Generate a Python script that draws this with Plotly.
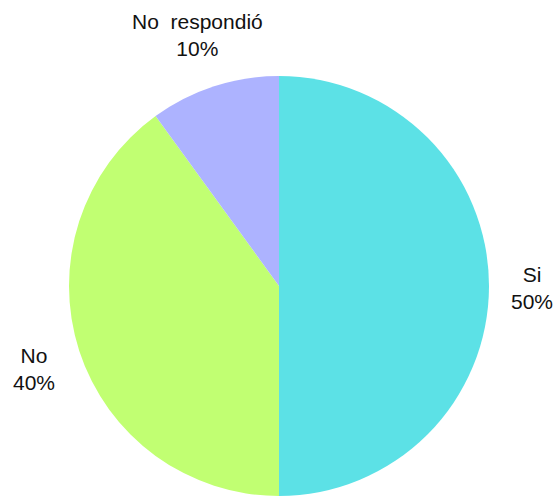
import plotly.graph_objects as go

labels = ["Si", "No", "No\u00a0 respondió"]
values = [50, 40, 10]
colors = ["#5CE1E6", "#C1FF72", "#ADB3FF"]

W, H = 556, 496

# label centres in pixels for the outside texts
label_pos = [(532, 288), (34, 369), (197, 35)]

total = sum(values)

def sx(px_):
    return px_ / W

def sy(py_):
    return min(1, max(0, 1 - py_ / H))

fig = go.Figure(go.Pie(
    labels=labels, values=values, sort=False, direction="clockwise",
    rotation=0, marker=dict(colors=colors, line=dict(width=0)),
    textinfo="none", hoverinfo="label+percent",
    domain=dict(x=[sx(67), sx(491)], y=[sy(496), sy(76)]),
    showlegend=False,
))

for lab, val, (px_, py_) in zip(labels, values, label_pos):
    fig.add_annotation(
        x=sx(px_), y=sy(py_), xref="paper", yref="paper",
        xanchor="center", yanchor="middle",
        text=f"{lab}<br>{round(100 * val / total)}%",
        showarrow=False, align="center",
        font=dict(family="Liberation Sans, Arial", size=21, color="#111111"),
    )

fig.update_layout(
    width=W, height=H, margin=dict(l=0, r=0, t=0, b=0),
    paper_bgcolor="white", plot_bgcolor="white",
)
fig.write_html(
    "out.html",
    config={"displayModeBar": False},
    post_script="document.body.style.margin='0px';"
                "document.body.style.overflow='hidden';",
)
